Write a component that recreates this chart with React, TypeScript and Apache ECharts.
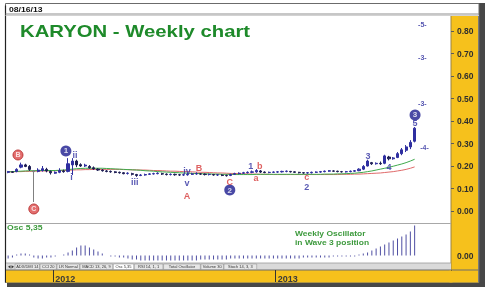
import React, { useEffect, useRef } from 'react';
import * as echarts from 'echarts';

const FONT = 'Arial, "Liberation Sans", Helvetica, sans-serif';

// ---- categories (weekly bars, Fridays) ----
const TOTAL_SLOTS = 104;
const FIRST_WEEK = Date.UTC(2011, 9, 21);
const weeks: string[] = Array.from({ length: TOTAL_SLOTS }, (_, i) =>
  new Date(FIRST_WEEK + i * 7 * 86400000).toISOString().slice(0, 10)
);
const yearStartIndex = [11, 63];
const yearLabels = ['2012', '2013'];

// ---- price bars [open, close, low, high] ----
const candles: number[][] = [
  [0.172, 0.175, 0.168, 0.178], [0.174, 0.172, 0.169, 0.176], [0.176, 0.185, 0.172, 0.19], [0.195, 0.205, 0.19, 0.215],
  [0.205, 0.198, 0.195, 0.21], [0.198, 0.185, 0.178, 0.204], [0.178, 0.175, 0.04, 0.182], [0.176, 0.182, 0.172, 0.19],
  [0.18, 0.188, 0.175, 0.2], [0.185, 0.178, 0.172, 0.192], [0.176, 0.17, 0.162, 0.18], [0.168, 0.172, 0.165, 0.176],
  [0.172, 0.18, 0.168, 0.19], [0.178, 0.175, 0.17, 0.184], [0.176, 0.21, 0.172, 0.235], [0.205, 0.222, 0.16, 0.235],
  [0.222, 0.205, 0.195, 0.228], [0.206, 0.2, 0.196, 0.212], [0.2, 0.204, 0.196, 0.21], [0.198, 0.192, 0.188, 0.204],
  [0.192, 0.187, 0.183, 0.198], [0.186, 0.182, 0.178, 0.19], [0.182, 0.179, 0.175, 0.186], [0.178, 0.176, 0.172, 0.182],
  [0.176, 0.174, 0.17, 0.18], [0.174, 0.171, 0.168, 0.177], [0.172, 0.17, 0.166, 0.175], [0.17, 0.166, 0.163, 0.173],
  [0.167, 0.168, 0.162, 0.172], [0.166, 0.163, 0.158, 0.17], [0.162, 0.158, 0.152, 0.165], [0.158, 0.16, 0.155, 0.164],
  [0.16, 0.162, 0.157, 0.166], [0.163, 0.165, 0.16, 0.168], [0.165, 0.166, 0.162, 0.17], [0.166, 0.168, 0.163, 0.172],
  [0.166, 0.164, 0.16, 0.17], [0.164, 0.162, 0.158, 0.167], [0.162, 0.163, 0.158, 0.167], [0.163, 0.161, 0.157, 0.166],
  [0.161, 0.16, 0.156, 0.165], [0.16, 0.161, 0.156, 0.166], [0.161, 0.163, 0.157, 0.168], [0.163, 0.165, 0.16, 0.17],
  [0.165, 0.166, 0.161, 0.172], [0.165, 0.164, 0.16, 0.169], [0.164, 0.162, 0.158, 0.167], [0.162, 0.163, 0.158, 0.166],
  [0.162, 0.16, 0.157, 0.165], [0.16, 0.161, 0.156, 0.164], [0.16, 0.158, 0.155, 0.163], [0.158, 0.157, 0.153, 0.162],
  [0.158, 0.162, 0.155, 0.166], [0.163, 0.166, 0.16, 0.17], [0.166, 0.168, 0.163, 0.172], [0.168, 0.17, 0.165, 0.174],
  [0.17, 0.172, 0.167, 0.176], [0.172, 0.174, 0.168, 0.18], [0.174, 0.18, 0.17, 0.186], [0.178, 0.173, 0.169, 0.182],
  [0.173, 0.171, 0.168, 0.176], [0.171, 0.172, 0.168, 0.175], [0.172, 0.173, 0.169, 0.176], [0.173, 0.174, 0.17, 0.177],
  [0.174, 0.176, 0.171, 0.179], [0.176, 0.177, 0.172, 0.18], [0.176, 0.174, 0.171, 0.178], [0.174, 0.172, 0.169, 0.176],
  [0.172, 0.17, 0.167, 0.174], [0.17, 0.169, 0.166, 0.173], [0.169, 0.17, 0.166, 0.173], [0.17, 0.172, 0.167, 0.175],
  [0.172, 0.173, 0.169, 0.176], [0.173, 0.175, 0.17, 0.178], [0.175, 0.177, 0.172, 0.18], [0.177, 0.179, 0.174, 0.182],
  [0.178, 0.177, 0.174, 0.181], [0.177, 0.175, 0.172, 0.179], [0.175, 0.174, 0.171, 0.178], [0.174, 0.175, 0.171, 0.178],
  [0.175, 0.177, 0.172, 0.18], [0.177, 0.179, 0.174, 0.182], [0.179, 0.186, 0.177, 0.19], [0.186, 0.198, 0.182, 0.204],
  [0.2, 0.222, 0.198, 0.228], [0.215, 0.21, 0.205, 0.218], [0.21, 0.212, 0.206, 0.216], [0.212, 0.21, 0.205, 0.22],
  [0.212, 0.245, 0.208, 0.25], [0.24, 0.232, 0.225, 0.245], [0.232, 0.236, 0.228, 0.24], [0.238, 0.255, 0.235, 0.262],
  [0.255, 0.272, 0.248, 0.28], [0.27, 0.285, 0.262, 0.293], [0.285, 0.305, 0.275, 0.315], [0.31, 0.368, 0.305, 0.373],
];
const spikeIndex = 6;

// ---- moving averages ----
const maFast: number[] = [
  0.174, 0.175, 0.176, 0.177, 0.178, 0.179, 0.179, 0.18, 0.18, 0.18,
  0.18, 0.18, 0.181, 0.182, 0.184, 0.186, 0.188, 0.189, 0.19, 0.19,
  0.19, 0.19, 0.19, 0.189, 0.188, 0.187, 0.186, 0.185, 0.184, 0.183,
  0.182, 0.181, 0.179, 0.178, 0.177, 0.175, 0.174, 0.173, 0.172, 0.171,
  0.17, 0.169, 0.168, 0.167, 0.167, 0.166, 0.165, 0.165, 0.164, 0.164,
  0.163, 0.163, 0.163, 0.162, 0.162, 0.162, 0.162, 0.162, 0.163, 0.163,
  0.163, 0.163, 0.163, 0.163, 0.163, 0.163, 0.163, 0.163, 0.163, 0.163,
  0.163, 0.163, 0.163, 0.163, 0.164, 0.164, 0.164, 0.165, 0.165, 0.166,
  0.167, 0.168, 0.17, 0.172, 0.175, 0.178, 0.182, 0.186, 0.19, 0.194,
  0.199, 0.204, 0.209, 0.215, 0.222, 0.23,
];
const maSlow: number[] = [
  0.174, 0.174, 0.175, 0.175, 0.176, 0.176, 0.177, 0.177, 0.178, 0.178,
  0.179, 0.179, 0.18, 0.18, 0.181, 0.182, 0.183, 0.183, 0.184, 0.184,
  0.185, 0.185, 0.185, 0.185, 0.185, 0.185, 0.185, 0.184, 0.184, 0.183,
  0.183, 0.182, 0.182, 0.181, 0.18, 0.18, 0.179, 0.178, 0.177, 0.177,
  0.176, 0.175, 0.175, 0.174, 0.173, 0.172, 0.172, 0.171, 0.17, 0.169,
  0.169, 0.168, 0.167, 0.167, 0.166, 0.165, 0.165, 0.164, 0.164, 0.163,
  0.163, 0.163, 0.162, 0.162, 0.162, 0.162, 0.162, 0.162, 0.162, 0.162,
  0.162, 0.162, 0.162, 0.162, 0.162, 0.162, 0.162, 0.162, 0.163, 0.163,
  0.163, 0.164, 0.164, 0.165, 0.166, 0.167, 0.168, 0.169, 0.171, 0.173,
  0.175, 0.178, 0.181, 0.185, 0.19, 0.196,
];

// ---- oscillator 5,35 ----
const osc: number[] = [
  -0.009, -0.006, 0.003, 0.006, 0.006, 0.003, -0.006, -0.009, -0.009, -0.006, -0.006, -0.003, 0, 0.003,
  0.009, 0.015, 0.024, 0.03, 0.03, 0.024, 0.018, 0.012, 0.006,
  0, -0.003, -0.003, -0.006, -0.006,
  -0.009, -0.012, -0.012, -0.015, -0.015, -0.015, -0.015, -0.015, -0.015, -0.015, -0.015, -0.015, -0.015,
  -0.015, -0.015, -0.015, -0.015, -0.012, -0.012, -0.012, -0.012, -0.012, -0.012, -0.012, -0.009, -0.009, -0.009, -0.009,
  -0.009, -0.009, -0.009, -0.009, -0.009, -0.009, -0.009, -0.009, -0.009, -0.009, -0.009, -0.009, -0.009,
  -0.006, -0.006, -0.006, -0.006, -0.006, -0.006, -0.006,
  -0.003, -0.003, -0.003, -0.003, -0.003, -0.003, 0.003,
  0.006, 0.009, 0.015, 0.021, 0.027, 0.033, 0.039, 0.045, 0.051, 0.057, 0.063, 0.072, 0.09,
];

// ---- Elliott wave annotations [slot, price, text, kind] ----
const waveLabels: [number, number, string, string][] = [
  [2.3, 0.249, 'B', 'rc'],
  [6, 0.009, 'C', 'rc'],
  [13.5, 0.267, '1', 'bc'],
  [15.6, 0.249, 'ii', 'b'],
  [14.8, 0.15, 'i', 'b'],
  [29.6, 0.129, 'iii', 'b'],
  [41.8, 0.178, 'iv', 'b'],
  [41.8, 0.124, 'v', 'b'],
  [41.8, 0.067, 'A', 'r'],
  [44.6, 0.191, 'B', 'r'],
  [51.8, 0.13, 'C', 'r'],
  [51.8, 0.093, '2', 'bc'],
  [56.7, 0.2, '1', 'b'],
  [58.8, 0.2, 'b', 'r'],
  [57.9, 0.147, 'a', 'r'],
  [69.8, 0.152, 'c', 'r'],
  [69.8, 0.107, '2', 'b'],
  [84.1, 0.244, '3', 'b'],
  [89.0, 0.196, '4', 'b'],
  [95.1, 0.391, '5', 'b'],
  [95.1, 0.427, '3', 'bc'],
  [97.3, 0.284, '-4-', 's'],
  [96.8, 0.48, '-3-', 's'],
  [96.8, 0.684, '-3-', 's'],
  [96.8, 0.827, '-5-', 's'],
];

const tabNames = ['ADX/DMI 14', 'CCI 20', 'LR Normal', 'MACD 13, 26, 9', 'Osc 5,35', 'RSI 14, 1, 1', 'Total Oscillator', 'Volume 30', 'Stoch 14, 3, 3'];

const BLUE = '#2f2fa0';
const RED = '#d63a3a';
const YELLOW = '#f6c11c';
const GREEN_TXT = '#3d9a3d';

const labelStyles: Record<string, any> = {
  bc: { size: 11, fill: '#1c1c8e', color: '#ffffff', fs: 8 },
  rc: { size: 10, fill: '#dc4a4a', color: '#ffffff', fs: 7 },
  b: { size: 1, fill: 'transparent', color: BLUE, fs: 9 },
  r: { size: 1, fill: 'transparent', color: RED, fs: 9 },
  s: { size: 1, fill: 'transparent', color: '#2b2b9c', fs: 7 },
};

export default function App() {
  const ref = useRef<HTMLDivElement>(null);
  useEffect(() => {
    if (!ref.current) return;
    const chart = echarts.init(ref.current, undefined, { renderer: 'svg' });

    const candleItems = candles.map((c, i) =>
      i === spikeIndex
        ? { value: c, itemStyle: { color: '#808080', color0: '#808080', borderColor: '#808080', borderColor0: '#808080' } }
        : { value: c }
    );

    const labelItems = waveLabels.map(([x, y, t, k]) => {
      const st = labelStyles[k];
      return {
        value: [x, y],
        symbolSize: st.size,
        itemStyle: { color: st.fill, borderColor: k === 'rc' ? '#b02020' : 'transparent', borderWidth: k === 'rc' ? 1 : 0 },
        label: {
          show: true, position: 'inside', formatter: t, color: st.color,
          fontSize: st.fs, fontWeight: 'bold', fontFamily: FONT,
        },
      };
    });

    // tabs strip
    const tabEls: any[] = [];
    let tx = 15;
    tabNames.forEach((name, i) => {
      const w = name.length * 2.05 + 4;
      tabEls.push({
        type: 'rect', z: 3, shape: { x: tx, y: 264, width: w, height: 5.5 },
        style: { fill: i === 4 ? '#ffffff' : '#e6e6e6', stroke: '#8a8a8a', lineWidth: 0.5 },
      });
      tabEls.push({
        type: 'text', z: 4, x: tx + w / 2, y: 266.9,
        style: { text: name, fill: '#333', fontSize: 4, fontFamily: FONT, align: 'center', verticalAlign: 'middle' },
      });
      tx += w + 0.6;
    });

    const graphics: any[] = [
      { type: 'rect', z: -20, shape: { x: 0, y: 0, width: 485, height: 287 }, style: { fill: '#ffffff' } },
      { type: 'rect', z: -19, shape: { x: 479, y: 3, width: 6, height: 284 }, style: { fill: '#474747' } },
      { type: 'rect', z: -19, shape: { x: 7, y: 282.5, width: 478, height: 4.5 }, style: { fill: '#474747' } },
      { type: 'rect', z: -18, shape: { x: 5.5, y: 3.5, width: 473.5, height: 279 }, style: { fill: '#ffffff', stroke: '#6b6b6b', lineWidth: 1 } },
      { type: 'line', z: -17, shape: { x1: 5.5, y1: 5.5, x2: 5.5, y2: 282.5 }, style: { stroke: '#222', lineWidth: 1.2 } },
      { type: 'line', z: -17, shape: { x1: 5.5, y1: 14, x2: 479, y2: 14 }, style: { stroke: '#8e8e8e', lineWidth: 1 } },
      { type: 'line', z: -17, shape: { x1: 5.5, y1: 15.5, x2: 479, y2: 15.5 }, style: { stroke: '#d2d2d2', lineWidth: 1 } },
      // yellow price column
      { type: 'rect', z: -16, shape: { x: 451, y: 16, width: 27.5, height: 254 }, style: { fill: YELLOW } },
      { type: 'line', z: -15, shape: { x1: 451, y1: 16, x2: 451, y2: 270 }, style: { stroke: '#9c8440', lineWidth: 1 } },
      { type: 'line', z: -15, shape: { x1: 478.5, y1: 16, x2: 478.5, y2: 282 }, style: { stroke: '#7a7a7a', lineWidth: 1 } },
      // panel separator
      { type: 'line', z: -15, shape: { x1: 6, y1: 223.5, x2: 451, y2: 223.5 }, style: { stroke: '#a8a8a8', lineWidth: 1 } },
      // tab strip
      { type: 'rect', z: 2, shape: { x: 6, y: 263, width: 445, height: 7 }, style: { fill: '#dadada' } },
      { type: 'line', z: 2, shape: { x1: 6, y1: 263, x2: 451, y2: 263 }, style: { stroke: '#9a9a9a', lineWidth: 0.8 } },
      { type: 'polygon', z: 4, shape: { points: [[8, 266.8], [10.5, 265.2], [10.5, 268.4]] }, style: { fill: '#333' } },
      { type: 'polygon', z: 4, shape: { points: [[14, 266.8], [11.5, 265.2], [11.5, 268.4]] }, style: { fill: '#333' } },
      // date bar
      { type: 'rect', z: -16, shape: { x: 6, y: 270, width: 472.5, height: 12.5 }, style: { fill: YELLOW } },
      { type: 'rect', z: 30, shape: { x: 449.5, y: 270.6, width: 3, height: 11.8 }, style: { fill: YELLOW } },
      { type: 'line', z: 2, shape: { x1: 6, y1: 270, x2: 478.5, y2: 270 }, style: { stroke: '#6d6d6d', lineWidth: 1 } },
      // texts
      { type: 'text', z: 20, x: 9, y: 9.5, scaleX: 1.15, style: { text: '08/16/13', fill: '#111', fontSize: 7.5, fontWeight: 'bold', fontFamily: FONT, align: 'left', verticalAlign: 'middle' } },
      { type: 'text', z: 20, x: 20, y: 31, scaleX: 1.27, style: { text: 'KARYON - Weekly chart', fill: '#1e8a2a', fontSize: 16, fontWeight: 'bold', fontFamily: FONT, align: 'left', verticalAlign: 'middle' } },
      { type: 'text', z: 20, x: 7, y: 228, scaleX: 1.15, style: { text: 'Osc 5,35', fill: GREEN_TXT, fontSize: 7.5, fontWeight: 'bold', fontFamily: FONT, align: 'left', verticalAlign: 'middle' } },
      { type: 'text', z: 20, x: 295, y: 234, scaleX: 1.13, style: { text: 'Weekly Oscillator', fill: GREEN_TXT, fontSize: 7.5, fontWeight: 'bold', fontFamily: FONT, align: 'left', verticalAlign: 'middle' } },
      { type: 'text', z: 20, x: 295, y: 243, scaleX: 1.13, style: { text: 'in Wave 3 position', fill: GREEN_TXT, fontSize: 7.5, fontWeight: 'bold', fontFamily: FONT, align: 'left', verticalAlign: 'middle' } },
      ...tabEls,
    ];

    const showYear = (i: number) => yearStartIndex.includes(i);

    chart.setOption({
      animation: false,
      graphic: { elements: graphics },
      grid: [
        { left: 6, top: 19.75, width: 445, height: 191.25, show: false },
        { left: 6, top: 224, width: 445, height: 39, show: false },
      ],
      xAxis: [
        { type: 'category', gridIndex: 0, data: weeks, boundaryGap: true, show: false, axisLine: { onZero: false } },
        { type: 'value', gridIndex: 0, min: -0.5, max: TOTAL_SLOTS - 0.5, show: false, axisLine: { onZero: false } },
        {
          type: 'category', gridIndex: 1, data: weeks, boundaryGap: true, position: 'bottom', offset: 7, z: 10,
          axisLine: { show: false, onZero: false },
          axisTick: { show: true, length: 12, interval: (i: number) => showYear(i), lineStyle: { color: '#333', width: 1 } },
          axisLabel: {
            interval: (i: number) => showYear(i),
            formatter: (_v: string, i: number) => { const k = yearStartIndex.indexOf(i); return k >= 0 ? yearLabels[k] : ''; },
            align: 'left', margin: 4, fontSize: 9, fontWeight: 'bold', color: '#3a3a3a', fontFamily: FONT,
          },
          splitLine: { show: false },
        },
      ],
      yAxis: [
        {
          type: 'value', gridIndex: 0, position: 'right', min: 0, max: 0.85, interval: 0.1, z: 10,
          axisLine: { show: false, onZero: false },
          axisTick: { show: true, length: 3, lineStyle: { color: '#5a5a5a' } },
          axisLabel: { showMaxLabel: false, formatter: (v: number) => v.toFixed(2), margin: 6, fontSize: 8.5, fontWeight: 'bold', color: '#2e2e2e', fontFamily: FONT },
          splitLine: { show: false },
        },
        {
          type: 'value', gridIndex: 1, position: 'right', min: -0.0225, max: 0.0945, z: 10,
          axisLine: { show: false, onZero: false },
          axisTick: { show: false },
          axisLabel: { formatter: (v: number) => (Math.abs(v) < 1e-9 ? '0.00' : ''), margin: 6, fontSize: 8.5, fontWeight: 'bold', color: '#2e2e2e', fontFamily: FONT },
          splitLine: { show: false },
        },
      ],
      series: [
        {
          type: 'line', xAxisIndex: 0, yAxisIndex: 0, data: maSlow, symbol: 'none', z: 1,
          lineStyle: { color: '#e06a6a', width: 1 },
        },
        {
          type: 'line', xAxisIndex: 0, yAxisIndex: 0, data: maFast, symbol: 'none', z: 1,
          lineStyle: { color: '#3faa4c', width: 1 },
        },
        {
          type: 'candlestick', xAxisIndex: 0, yAxisIndex: 0, data: candleItems, barWidth: 2.6, z: 3,
          itemStyle: { color: BLUE, color0: '#1e1e55', borderColor: BLUE, borderColor0: '#1e1e55', borderWidth: 1 },
        },
        {
          type: 'bar', xAxisIndex: 2, yAxisIndex: 1, data: osc, barWidth: 1,
          itemStyle: { color: '#4f4fa3' },
        },
        {
          type: 'scatter', xAxisIndex: 1, yAxisIndex: 0, data: labelItems, z: 6,
        },
      ],
    });
    return () => chart.dispose();
  }, []);

  return <div ref={ref} style={{ position: 'fixed', left: 0, top: 0, width: 485, height: 287 }} />;
}
